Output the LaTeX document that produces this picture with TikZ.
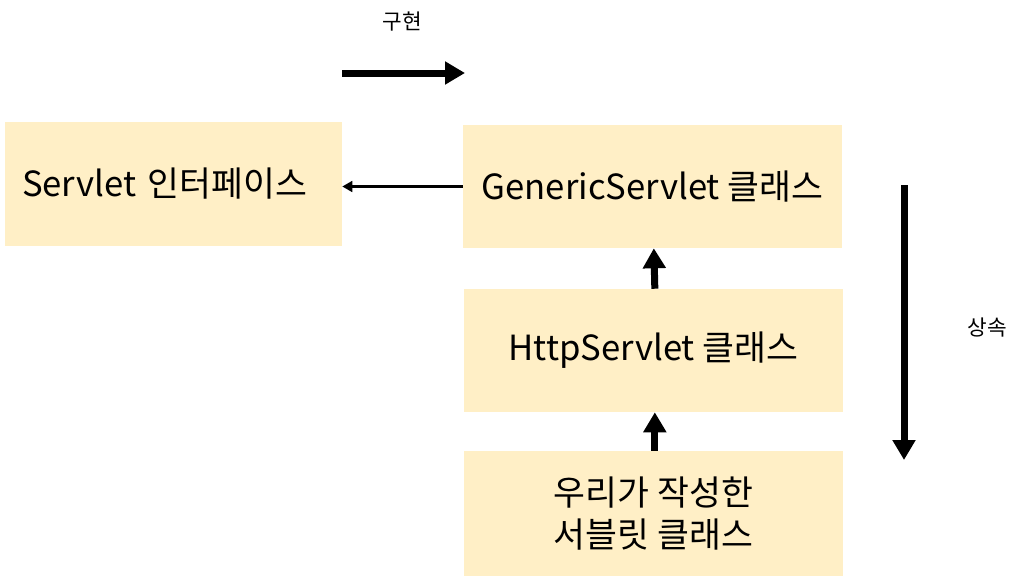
\documentclass[tikz,border=0pt]{standalone}
\usepackage{fontspec}
\setmainfont{Noto Sans CJK KR}
\usetikzlibrary{arrows.meta}
\definecolor{boxfill}{HTML}{FFEFC6}
\tikzset{
  box/.style={fill=boxfill, draw=none, inner sep=0pt, font=\fontsize{26}{36}\selectfont, align=center},
  lbl/.style={font=\fontsize{16}{19}\selectfont, inner sep=0pt},
  thick arrow/.style={line width=5.25pt, -{Triangle[length=15pt, width=16.5pt]}},
  thin arrow/.style={line width=2.25pt, -{Triangle[length=7.5pt, width=8pt]}}
}
\begin{document}
\begin{tikzpicture}[x=0.75pt, y=-0.75pt]
\path[use as bounding box] (0,0) rectangle (1020,586);
\node[box, minimum width=252.75pt, minimum height=93pt, text width=227.25pt, inner xsep=12.75pt, align=left] (servlet) at (173.5,184) {Servlet 인터페이스};
\node[box, minimum width=284.25pt, minimum height=92.25pt] (gen) at (652.5,186.5) {GenericServlet 클래스};
\node[box, minimum width=284.25pt, minimum height=92.25pt] (http) at (653.5,350.5) {HttpServlet 클래스};
\node[box, minimum width=284.25pt, minimum height=93.75pt, font=\fontsize{26}{31.5}\selectfont] (ours) at (653.5,513.5) {우리가 작성한\\서블릿 클래스};
\coordinate (implA) at (342,73);
\coordinate (implB) at (465,73);
\coordinate (inhA) at (904,185);
\coordinate (inhB) at (904,460);
\node[lbl] (impl) at (402,22) {구현};
\node[lbl] (inh) at (987,328) {상속};
\draw[thick arrow] (implA) -- (implB);
\draw[thick arrow] (inhA) -- (inhB);
\draw[thin arrow] (gen.west) -- (servlet.east |- gen.west);
\draw[thick arrow] ([xshift=1pt]http.north) -- ([xshift=1pt]gen.south);
\draw[thick arrow] ([xshift=1pt]ours.north) -- ([xshift=1pt]http.south);
\end{tikzpicture}
\end{document}
